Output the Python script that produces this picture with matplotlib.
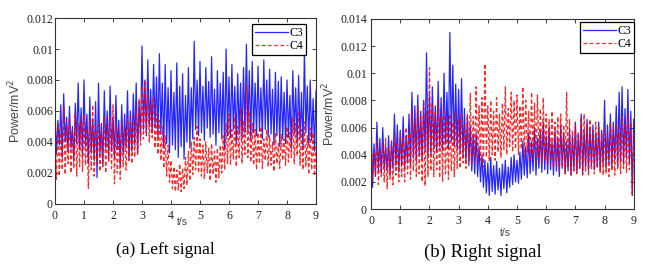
import numpy as np
import matplotlib
matplotlib.use("Agg")
import matplotlib.pyplot as plt

# values in units of 1e-3 mV^2; peaks at t = 0, 0.1, ... 9.0, troughs at t = 0.05, 0.15, ... 8.95
left_c3_peaks = [6.0, 5.4, 6.4, 7.1, 5.6, 6.3, 5.0, 6.5, 7.8, 6.2,
                 8.0, 5.8, 6.9, 5.5, 6.6, 7.8, 5.2, 7.3, 6.0, 7.6,
                 5.6, 7.0, 5.4, 6.4, 5.8, 7.3, 6.0, 7.1, 7.8, 6.6,
                 10.2, 8.0, 9.3, 7.4, 9.0, 8.2, 9.7, 7.8, 9.0, 7.5,
                 8.6, 7.2, 9.1, 7.6, 8.4, 7.0, 8.8, 7.5, 10.5, 8.0,
                 9.2, 7.6, 8.8, 7.9, 9.5, 7.4, 8.6, 7.8, 8.5, 10.0,
                 8.2, 9.0, 7.6, 8.4, 7.8, 8.8, 10.3, 8.6, 9.2, 7.8,
                 8.9, 7.5, 9.3, 8.0, 8.7, 7.4, 8.5, 7.9, 8.2, 7.2,
                 8.0, 7.0, 8.6, 7.5, 8.3, 7.2, 9.9, 7.6, 8.0, 6.8,
                 7.3]
left_c3_troughs = [3.2, 3.8, 3.0, 4.0, 3.4, 3.6, 2.8, 3.9, 3.5, 3.1,
                   3.7, 2.6, 3.3, 2.8, 1.7, 3.2, 2.5, 3.6, 2.9, 3.4,
                   3.0, 3.5, 2.4, 3.2, 3.6, 2.9, 3.4, 3.8, 3.3, 4.3,
                   4.8, 4.4, 5.0, 4.6, 4.9, 4.3, 4.5, 3.6, 3.9, 3.3,
                   3.8, 3.5, 3.0, 3.7, 2.9, 4.0, 3.6, 4.2, 4.8, 4.4,
                   4.6, 4.1, 4.9, 4.3, 4.5, 3.8, 4.6, 4.2, 3.5, 4.4,
                   4.3, 4.8, 3.9, 4.5, 4.2, 4.6, 4.7, 4.1, 4.6, 4.4,
                   4.7, 4.2, 4.8, 4.3, 4.5, 3.8, 4.4, 3.7, 4.2, 3.9,
                   4.3, 3.6, 4.5, 3.9, 4.2, 3.5, 4.6, 3.8, 4.1, 3.4]
left_c4_peaks = [4.2, 5.2, 4.6, 6.3, 5.0, 5.6, 4.8, 5.9, 5.2, 5.5,
                 5.8, 4.9, 5.4, 6.4, 5.0, 5.3, 4.6, 5.7, 5.0, 5.6,
                 6.4, 5.1, 4.6, 5.2, 4.8, 5.5, 5.8, 5.2, 6.0, 6.8,
                 7.6, 8.0, 7.0, 6.5, 6.9, 5.8, 5.4, 5.0, 4.4, 3.8,
                 2.8, 2.4, 2.2, 2.6, 2.3, 3.0, 3.4, 4.0, 4.3, 5.0,
                 4.2, 3.8, 4.0, 3.6, 3.9, 3.4, 3.6, 3.8, 4.4, 5.2,
                 5.8, 4.8, 5.6, 5.0, 6.2, 5.4, 7.7, 6.0, 5.2, 4.8,
                 4.6, 5.0, 4.2, 4.8, 4.4, 4.0, 4.6, 3.9, 4.5, 4.2,
                 5.0, 4.6, 5.6, 5.2, 6.0, 4.8, 5.3, 4.4, 4.9, 4.6,
                 3.8]
left_c4_troughs = [1.6, 1.8, 2.2, 1.9, 2.6, 2.0, 2.3, 1.8, 2.4, 2.1,
                   2.5, 1.0, 2.2, 1.8, 2.6, 2.1, 2.4, 2.0, 2.7, 2.3,
                   1.3, 2.0, 1.6, 2.4, 2.2, 2.8, 2.6, 3.0, 3.2, 3.8,
                   4.2, 4.6, 4.0, 4.3, 3.6, 3.2, 2.8, 2.3, 1.8, 1.4,
                   1.0, 0.8, 0.9, 0.8, 1.0, 1.2, 1.5, 1.9, 2.2, 2.0,
                   1.8, 1.6, 2.0, 1.5, 1.9, 1.4, 1.7, 2.0, 2.2, 2.6,
                   2.5, 2.9, 2.4, 3.0, 2.6, 3.2, 3.0, 2.7, 2.5, 2.2,
                   2.6, 2.3, 2.8, 2.4, 2.5, 2.1, 2.6, 2.3, 2.8, 2.5,
                   2.7, 3.0, 2.6, 3.1, 2.5, 2.2, 2.4, 1.9, 2.2, 1.8]

right_c3_peaks = [6.8, 4.8, 6.4, 5.2, 6.0, 4.6, 5.4, 5.0, 7.0, 6.2,
                  5.8, 6.8, 5.4, 7.0, 8.6, 7.6, 8.4, 7.2, 8.0, 11.5,
                  8.4, 9.0, 7.6, 9.4, 8.2, 10.0, 8.6, 13.0, 10.6, 9.2,
                  8.8, 9.6, 7.4, 6.8, 6.2, 5.4, 5.6, 4.6, 4.0, 3.6,
                  3.4, 3.8, 3.2, 3.5, 3.0, 3.3, 3.6, 3.1, 3.8, 4.0,
                  3.6, 4.2, 5.0, 4.6, 5.6, 5.0, 6.0, 5.2, 5.8, 6.4,
                  5.4, 6.0, 5.0, 5.8, 5.2, 6.2, 5.6, 5.0, 5.8, 5.4,
                  6.4, 5.6, 7.0, 5.8, 6.6, 6.0, 6.2, 5.6, 6.4, 5.8,
                  8.0, 6.2, 7.0, 6.4, 7.6, 8.6, 9.0, 7.4, 8.8, 7.2,
                  6.6]
right_c3_troughs = [1.6, 2.4, 2.8, 2.6, 3.0, 2.8, 2.5, 3.0, 3.2, 2.7,
                    3.2, 3.0, 3.4, 3.2, 3.8, 3.5, 4.0, 3.6, 4.2, 3.8,
                    4.0, 4.4, 4.2, 4.6, 4.3, 4.8, 4.4, 5.0, 4.6, 4.4,
                    4.2, 3.8, 3.5, 3.2, 2.8, 2.6, 2.4, 2.0, 1.6, 1.2,
                    1.0, 1.3, 1.1, 1.4, 1.0, 1.5, 1.2, 1.6, 1.8, 2.0,
                    1.9, 2.2, 2.5, 2.3, 2.6, 2.8, 2.5, 3.0, 2.7, 2.9,
                    2.6, 2.9, 2.5, 2.8, 2.4, 3.0, 2.6, 2.8, 2.5, 2.9,
                    2.7, 3.0, 2.6, 3.1, 2.8, 3.2, 2.9, 3.1, 2.8, 3.3,
                    3.0, 3.4, 3.1, 3.6, 3.2, 3.5, 3.3, 3.8, 3.4, 1.0]
right_c4_peaks = [4.6, 4.2, 5.0, 4.4, 4.8, 5.2, 4.5, 5.0, 5.4, 4.8,
                  5.6, 5.2, 6.0, 5.6, 7.2, 6.4, 7.6, 6.8, 8.0, 7.2,
                  10.4, 7.8, 7.2, 8.0, 6.8, 7.4, 6.6, 7.0, 6.4, 7.2,
                  6.6, 7.0, 6.2, 7.0, 8.5, 6.8, 9.0, 7.6, 8.2, 10.7,
                  7.6, 8.0, 7.2, 8.2, 7.0, 7.8, 9.0, 7.4, 8.6, 8.0,
                  8.4, 7.6, 9.0, 8.0, 7.2, 8.6, 7.8, 8.4, 7.4, 8.2,
                  7.0, 6.6, 7.2, 6.4, 6.8, 7.0, 6.2, 8.6, 6.6, 5.8,
                  6.2, 5.6, 6.8, 7.0, 6.2, 6.6, 5.8, 6.4, 6.0, 5.6,
                  6.0, 5.4, 6.4, 5.8, 6.2, 5.6, 6.8, 6.2, 7.0, 6.4,
                  5.6]
right_c4_troughs = [2.2, 2.6, 1.8, 2.4, 2.0, 1.5, 2.2, 1.8, 2.5, 2.0,
                    2.4, 2.0, 2.6, 2.2, 2.8, 2.4, 2.6, 2.0, 1.7, 2.4,
                    2.8, 2.4, 2.9, 2.3, 2.0, 2.6, 2.2, 2.8, 2.4, 3.0,
                    3.0, 3.4, 3.0, 3.6, 3.2, 3.8, 3.4, 3.6, 3.1, 3.8,
                    3.5, 4.0, 3.6, 4.2, 3.8, 4.4, 4.0, 4.6, 4.2, 4.4,
                    4.0, 4.4, 3.8, 4.2, 3.6, 4.0, 3.5, 3.8, 3.4, 3.6,
                    3.2, 3.5, 3.0, 3.3, 2.8, 3.1, 2.6, 3.0, 2.5, 2.8,
                    2.6, 3.0, 2.5, 2.8, 2.4, 2.9, 2.6, 3.0, 2.7, 2.5,
                    2.6, 2.4, 2.8, 2.5, 2.9, 2.6, 3.0, 2.7, 2.9, 1.0]

left_yticks = [0, 0.002, 0.004, 0.006, 0.008, 0.01, 0.012]
left_ylabels = ["0", "0.002", "0.004", "0.006", "0.008", "0.01", "0.012"]
right_yticks = [0, 0.002, 0.004, 0.006, 0.008, 0.01, 0.012, 0.014]
right_ylabels = ["0", "0.002", "0.004", "0.006", "0.008", "0.01", "0.012", "0.014"]
xticks = list(range(10))
captions = ["(a) Left signal", "(b) Right signal"]


def zigzag(peaks, troughs):
    # interleave peak and trough readings into one series
    t_p = np.arange(len(peaks)) * 0.1
    t_t = np.arange(len(troughs)) * 0.1 + 0.05
    t = np.empty(len(t_p) + len(t_t))
    v = np.empty_like(t)
    t[0::2], t[1::2] = t_p, t_t
    v[0::2], v[1::2] = peaks, troughs
    return t, v * 1e-3


fig = plt.figure(figsize=(6.65, 2.74), dpi=100)
ax1 = fig.add_axes([0.0827, 0.2555, 0.3925, 0.6788])
ax2 = fig.add_axes([0.558, 0.237, 0.395, 0.694])

serif = "Liberation Serif"
sans = "Liberation Sans"

panels = [
    (ax1, left_c3_peaks, left_c3_troughs, left_c4_peaks, left_c4_troughs,
     0.012, left_yticks, left_ylabels, (0.487, -0.07), (0.962, 0.968), 1.5),
    (ax2, right_c3_peaks, right_c3_troughs, right_c4_peaks, right_c4_troughs,
     0.014, right_yticks, right_ylabels, (0.51, -0.10), (1.0, 0.984), 3.0),
]

for ax, p3, t3, p4, t4, ymax, yt, yl, xlab, leg, ypad in panels:
    x, y = zigzag(p3, t3)
    ax.plot(x, y, color="#0000ff", lw=0.9, alpha=0.85, label="C3")
    x, y = zigzag(p4, t4)
    ax.plot(x, y, color="#ff0000", lw=0.9, alpha=0.85, ls=(0, (3, 2)), label="C4")
    ax.set_xlim(0, 9)
    ax.set_ylim(0, ymax)
    ax.set_xticks(xticks)
    ax.set_xticklabels([str(v) for v in xticks], family=serif, fontsize=8.6)
    ax.set_yticks(yt)
    ax.set_yticklabels(yl, family=serif, fontsize=8.6)
    ax.tick_params(direction="in", length=3, width=0.6, top=True, right=True,
                   colors="#222222")
    ax.tick_params(axis="x", pad=4)
    ax.tick_params(axis="y", pad=ypad)
    for s in ax.spines.values():
        s.set_linewidth(0.8)
        s.set_color("#333333")
    ax.set_xlabel("t/s", family=sans, fontsize=7.5, color="#444444")
    ax.xaxis.set_label_coords(*xlab)
    ax.set_ylabel("Power/mV$^2$", family=sans, fontsize=9, color="#444444", labelpad=2)
    lg = ax.legend(loc="upper right", bbox_to_anchor=leg, fancybox=False,
                   prop={"family": serif, "size": 8.5}, handlelength=2.8,
                   handletextpad=0.1, borderpad=0.25, labelspacing=0.1,
                   borderaxespad=0, framealpha=1)
    lg.get_frame().set_edgecolor("black")
    lg.get_frame().set_linewidth(0.9)

fig.text(165 / 665, 1 - 250 / 274, captions[0], family=serif, fontsize=12.5,
         ha="center", va="center")
fig.text(483 / 665, 1 - 252 / 274, captions[1], family=serif, fontsize=13.5,
         ha="center", va="center")

fig.savefig("out.png", dpi=100)
